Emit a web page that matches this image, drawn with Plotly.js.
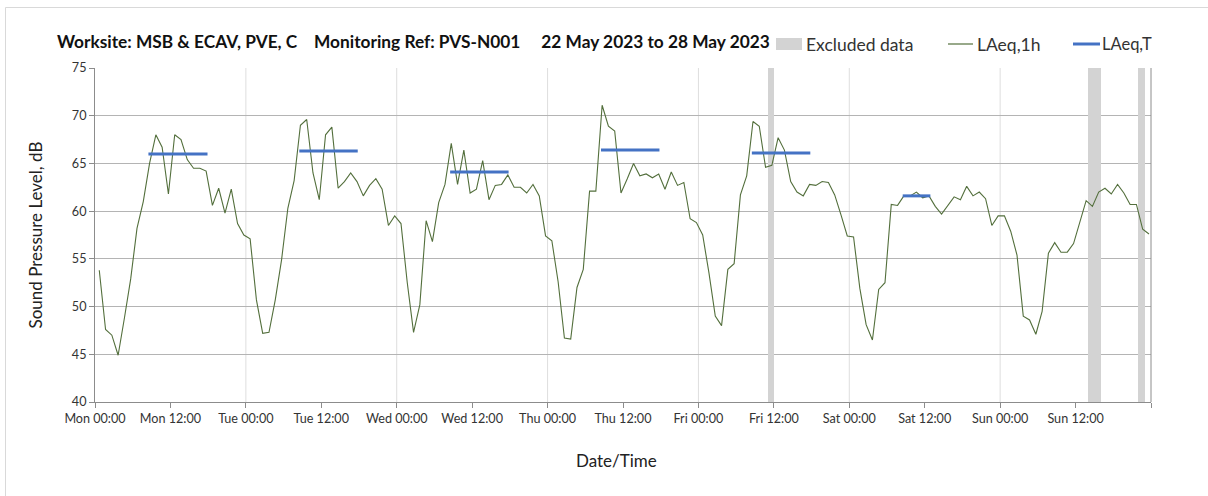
<!DOCTYPE html>
<html>
<head>
<meta charset="utf-8">
<script src="https://cdn.plot.ly/plotly-3.0.1.min.js"></script>
<style>html,body{margin:0;padding:0;background:#fff;}#chart{width:1208px;height:496px;}</style>
</head>
<body>
<div id="chart"></div>
<script>
// Hourly LAeq,1h values (dB), one array per day, Mon 22 May to Sun 28 May 2023
const mon = [53.8,47.6,47.0,44.9,48.8,52.9,58.2,61.0,65.0,68.0,66.7,61.8,68.0,67.5,65.4,64.5,64.5,64.2,60.6,62.4,59.8,62.3,58.7,57.5];
const tue = [57.1,50.7,47.2,47.3,50.7,54.9,60.3,63.2,69.0,69.6,64.0,61.2,68.0,68.8,62.4,63.1,64.0,63.1,61.6,62.7,63.4,62.3,58.5,59.5];
const wed = [58.7,52.5,47.3,50.2,59.0,56.8,60.9,62.8,67.1,62.8,66.4,61.9,62.3,65.3,61.2,62.7,62.8,63.8,62.5,62.5,61.9,62.8,61.6,57.4];
const thu = [56.9,52.6,46.7,46.6,52.0,53.9,62.1,62.1,71.1,68.9,68.4,61.9,63.4,65.0,63.7,63.9,63.5,63.9,62.3,64.1,62.7,63.0,59.2,58.8];
const fri = [57.5,53.5,49.0,48.0,53.9,54.5,61.7,63.7,69.4,68.9,64.6,64.8,67.7,66.4,63.1,62.0,61.6,62.8,62.7,63.1,63.0,61.7,59.6,57.4];
const sat = [57.3,51.9,48.1,46.5,51.8,52.5,60.7,60.6,61.6,61.6,62.0,61.4,61.6,60.5,59.7,60.6,61.5,61.2,62.6,61.6,62.0,61.3,58.5,59.5];
const sun = [59.5,57.9,55.4,49.0,48.6,47.1,49.5,55.6,56.7,55.7,55.7,56.6,59.0,61.1,60.5,62.0,62.4,61.8,62.8,61.9,60.7,60.7,58.1,57.6];

// LAeq,T daytime periods (hours from Mon 00:00) and levels (dB)
const periodStart = [8.5, 32.5, 56.5, 80.5, 104.5, 128.5];
const periodEnd   = [17.9, 41.8, 65.8, 89.8, 113.8, 132.9];
const periodLevel = [66.0, 66.3, 64.1, 66.4, 66.1, 61.6];

// Excluded data periods (hours from Mon 00:00)
const excludedStart = [107, 158, 166];
const excludedEnd   = [108, 160, 167];

const tickLabels = ["Mon 00:00","Mon 12:00","Tue 00:00","Tue 12:00","Wed 00:00","Wed 12:00","Thu 00:00","Thu 12:00","Fri 00:00","Fri 12:00","Sat 00:00","Sat 12:00","Sun 00:00","Sun 12:00",""];
const tickHours = tickLabels.map((_, i) => i * 12);

const seriesNames = ["Excluded data", "LAeq,1h", "LAeq,T"];
const titleText = "Worksite: MSB &amp; ECAV, PVE, C&nbsp;&nbsp;&nbsp;&nbsp;Monitoring Ref: PVS-N001&nbsp;&nbsp;&nbsp;&nbsp;&nbsp;22 May 2023 to 28 May 2023";
const xTitle = "Date/Time";
const yTitle = "Sound Pressure Level, dB";

const hourly = [].concat(mon, tue, wed, thu, fri, sat, sun);
const pointOffset = 0.68;
const xh = hourly.map((_, i) => i + pointOffset);

const exX = excludedStart.map((s, i) => (s + excludedEnd[i]) / 2);
const exW = excludedStart.map((s, i) => excludedEnd[i] - s);
const exY = excludedStart.map(() => 75);

const tX = [], tY = [];
periodStart.forEach((s, i) => { tX.push(s, periodEnd[i], null); tY.push(periodLevel[i], periodLevel[i], null); });

const font = "Lato, 'Open Sans', sans-serif";
const green = '#536f3c', blue = '#4472c4', grey = '#d3d3d3';

const traces = [
  {type: 'bar', name: seriesNames[0], x: exX, y: exY, width: exW, marker: {color: grey, line: {width: 0}}, hoverinfo: 'skip'},
  {type: 'scatter', mode: 'lines', name: seriesNames[1], x: xh, y: hourly, line: {color: green, width: 1.1}},
  {type: 'scatter', mode: 'lines', name: seriesNames[2], x: tX, y: tY, line: {color: blue, width: 3}, connectgaps: false}
];

// pixel helpers (plot area: x 95..1151, y 68..402)
const PX = px => (px - 95) / 1056;
const PY = py => 1 + (68 - py) / 334;

const legendFont = {family: font, size: 17.5, color: '#333'};

const layout = {
  width: 1208, height: 496,
  margin: {l: 95, r: 57, t: 68, b: 94},
  paper_bgcolor: '#ffffff', plot_bgcolor: '#ffffff',
  font: {family: font, size: 12, color: '#222'},
  bargap: 0,
  showlegend: false,
  title: {text: '<b>' + titleText + '</b>', x: 57/1208, xanchor: 'left', xref: 'container', y: 1 - 42/496, yanchor: 'middle', yref: 'container', font: {family: font, size: 17.3, color: '#111'}},
  xaxis: {
    range: [0, 168], tickvals: tickHours, ticktext: tickLabels,
    showgrid: false, zeroline: false,
    showline: true, linecolor: '#8c8c8c', linewidth: 1,
    ticks: 'outside', ticklen: 5, tickcolor: '#8c8c8c',
    tickfont: {family: font, size: 12.6, color: '#333'}
  },
  yaxis: {
    range: [40, 75], dtick: 5, tick0: 40,
    showgrid: true, gridcolor: '#b4b4b4', gridwidth: 1, zeroline: false,
    showline: true, linecolor: '#8c8c8c', linewidth: 1,
    ticks: 'outside', ticklen: 5, tickcolor: '#8c8c8c',
    tickfont: {family: font, size: 12.6, color: '#333'},
    title: {text: yTitle, font: {family: font, size: 17, color: '#222'}, standoff: 24}
  },
  annotations: [
    {xref: 'paper', yref: 'paper', x: PX(616), y: PY(461), xanchor: 'center', yanchor: 'middle', text: xTitle, showarrow: false, font: {family: font, size: 17, color: '#222'}},
    {xref: 'paper', yref: 'paper', x: PX(804), y: PY(44), xanchor: 'left', yanchor: 'middle', text: seriesNames[0], showarrow: false, font: legendFont},
    {xref: 'paper', yref: 'paper', x: PX(975), y: PY(44), xanchor: 'left', yanchor: 'middle', text: seriesNames[1], showarrow: false, font: legendFont},
    {xref: 'paper', yref: 'paper', x: PX(1100), y: PY(44), xanchor: 'left', yanchor: 'middle', text: seriesNames[2], showarrow: false, font: {family: font, size: 16.5, color: '#333'}}
  ],
  shapes: [
    ...[24, 48, 72, 96, 120, 144].map(h => ({type: 'line', xref: 'x', yref: 'paper', x0: h, x1: h, y0: 0, y1: 1, line: {color: '#dedede', width: 1}, layer: 'below'})),
    {type: 'line', xref: 'paper', yref: 'paper', x0: 1, x1: 1, y0: 0, y1: 1, line: {color: '#8c8c8c', width: 1}},
    {type: 'line', xref: 'paper', yref: 'paper', x0: PX(5.5), x1: PX(1210), y0: PY(7.5), y1: PY(7.5), line: {color: '#d9d9d9', width: 1}},
    {type: 'line', xref: 'paper', yref: 'paper', x0: PX(5.5), x1: PX(5.5), y0: PY(7.5), y1: PY(500), line: {color: '#d9d9d9', width: 1}},
    {type: 'rect', xref: 'paper', yref: 'paper', x0: PX(776), x1: PX(802), y0: PY(50), y1: PY(38), fillcolor: grey, line: {width: 0}},
    {type: 'line', xref: 'paper', yref: 'paper', x0: PX(948), x1: PX(973), y0: PY(44), y1: PY(44), line: {color: green, width: 1.2}},
    {type: 'line', xref: 'paper', yref: 'paper', x0: PX(1073), x1: PX(1100), y0: PY(44), y1: PY(44), line: {color: blue, width: 3}}
  ]
};

Plotly.newPlot('chart', traces, layout, {displayModeBar: false, staticPlot: true});
</script>
</body>
</html>
